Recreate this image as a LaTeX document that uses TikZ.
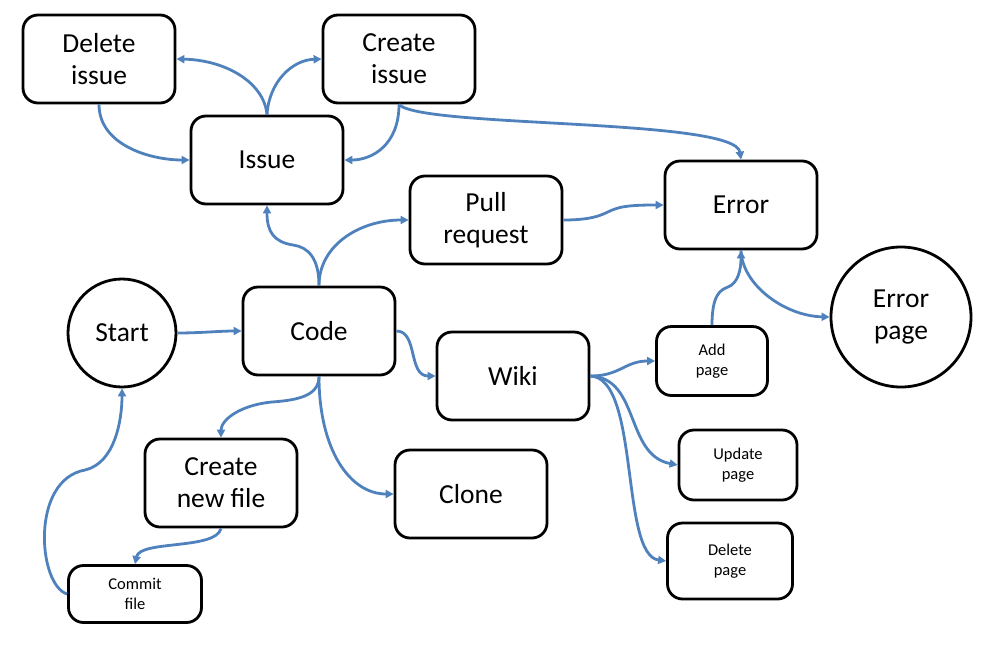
\documentclass[tikz,border=0pt]{standalone}
\usepackage{fontspec}
\setmainfont{Carlito}
\usetikzlibrary{arrows.meta}
\definecolor{conn}{RGB}{79,129,189}
\tikzset{
  box/.style={draw=black, line width=2.8pt, rounded corners=15pt, rectangle, inner sep=0pt,
    minimum width=152pt, minimum height=88pt, align=center, font=\fontsize{27.5}{32}\selectfont},
  smallbox/.style={box, font=\fontsize{16.5}{20}\selectfont},
  round/.style={draw=black, line width=2.8pt, circle, inner sep=0pt, align=center,
    font=\fontsize{27.5}{32}\selectfont},
  link/.style={draw=conn, line width=2.8pt, -{Triangle[length=8pt,width=8pt]}},
}
\begin{document}
\begin{tikzpicture}[x=1pt,y=-1pt]
\useasboundingbox (0,0) rectangle (993,646);
% nodes
\node[box] (deli) at (99,59) {Delete\\issue};
\node[box] (crei) at (399,59) {Create\\issue};
\node[box] (issue) at (267,160) {Issue};
\node[box] (pr) at (486,220) {Pull\\request};
\node[box] (err) at (741,205) {Error};
\node[round, minimum size=108pt] (start) at (122,333) {Start};
\node[box] (code) at (319,331) {Code};
\node[box] (wiki) at (513,376) {Wiki};
\node[round, minimum size=140pt] (errp) at (901,317) {Error\\page};
\node[smallbox, minimum width=111pt, minimum height=69pt] (addp) at (712,361) {Add\\page};
\node[smallbox, minimum width=118pt, minimum height=70pt] (updp) at (738,465) {Update\\page};
\node[smallbox, minimum width=125pt, minimum height=76pt] (delp) at (730,561) {Delete\\page};
\node[box] (cnf) at (221,483) {Create\\new file};
\node[box] (clone) at (471,494) {Clone};
\node[smallbox, minimum width=133pt, minimum height=57pt] (commit) at (135,594) {Commit\\file};
% connectors
\draw[link] (issue.north) .. controls (264,82) and (225,60) .. (deli.east);
\draw[link] (issue.north) .. controls (269,82) and (292,60) .. (crei.west);
\draw[link] (deli.south) .. controls (99,145) and (150,160) .. (issue.west);
\draw[link] (crei.south) .. controls (399,145) and (372,160) .. (issue.east);
\draw[link] (crei.south) .. controls (420,128) and (735,118) .. (err.north);
\draw[link] (code.north) .. controls (319,258) and (308,247) .. (293,245)
   .. controls (274,242) and (267,232) .. (issue.south);
\draw[link] (code.north) .. controls (319,245) and (360,220) .. (pr.west);
\draw[link] (pr.east) .. controls (600,220) and (605,212) .. (615,209)
   .. controls (625,205) and (645,205) .. (err.west);
\draw[link] (start.east) .. controls (200,333) and (220,331) .. (code.west);
\draw[link] (code.east) .. controls (418,331) and (408,376) .. (wiki.west);
\draw[link] (code.south) .. controls (319,395) and (300,400) .. (272,402)
   .. controls (240,405) and (221,420) .. (cnf.north);
\draw[link] (code.south) .. controls (319,450) and (350,494) .. (clone.west);
\draw[link] (cnf.south) .. controls (216,550) and (140,540) .. (commit.north);
\draw[link] (commit.west) .. controls (38,585) and (30,480) .. (85,470)
   .. controls (115,463) and (122,420) .. (start.south);
\draw[link] (wiki.east) .. controls (620,376) and (625,361) .. (addp.west);
\draw[link] (wiki.east) .. controls (640,378) and (625,455) .. (updp.west);
\draw[link] (wiki.east) .. controls (640,378) and (620,555) .. (delp.west);
\draw[link] (addp.north) .. controls (712,295) and (720,290) .. (728,287)
   .. controls (738,283) and (741,270) .. (err.south);
\draw[link] (err.south) .. controls (742,285) and (785,316) .. (errp.west);
\end{tikzpicture}
\end{document}
